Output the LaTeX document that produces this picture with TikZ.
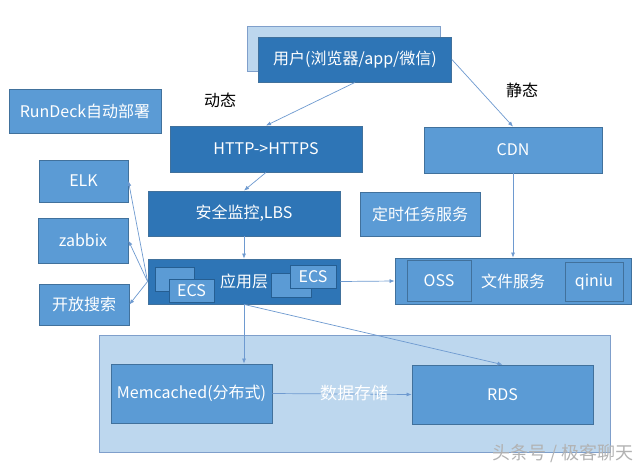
\documentclass[tikz,border=0pt]{standalone}
\usepackage{fontspec}
\setmainfont{Noto Sans CJK SC}
\usetikzlibrary{arrows.meta}
\definecolor{darkbox}{HTML}{2E75B6}
\definecolor{midbox}{HTML}{5B9BD5}
\definecolor{lightbox}{HTML}{BDD7EE}
\definecolor{boxline}{HTML}{41719C}
\definecolor{paleline}{HTML}{7F9FCB}
\definecolor{arrowline}{HTML}{6E9AD0}

\tikzstyle{box}=[draw=boxline,line width=0.8pt,fill=midbox,text=white,inner sep=0pt,font=\fontsize{16}{19}\selectfont]
\tikzstyle{dark box}=[box,fill=darkbox]
\tikzstyle{pale box}=[draw=paleline,line width=0.8pt,fill=lightbox,inner sep=0pt]
\tikzstyle{ecs box}=[draw=darkbox!80!black,line width=0.5pt,fill=midbox,text=white,inner sep=0pt,font=\fontsize{16}{19}\selectfont]
\tikzstyle{note}=[inner sep=0pt,font=\fontsize{16}{19}\selectfont]
\tikzstyle{flow} = [draw,line width=0.7pt,arrowline,-{Latex[length=5pt,width=4pt]}]

\begin{document}
\begin{tikzpicture}[x=1pt,y=-1pt]
	\useasboundingbox[fill=white] (0,0) rectangle (640,469);
	% user and the entry path
	\node[pale box,minimum width=193pt,minimum height=45pt] (userback) at (343.5,48.5) {};
	\node[dark box,minimum width=193pt,minimum height=45pt] (user) at (355,59.5) {用户(浏览器/app/微信)};
	\node[box,minimum width=152pt,minimum height=44pt] (rundeck) at (85,111) {RunDeck自动部署};
	\node[dark box,minimum width=192pt,minimum height=46pt] (http) at (266,149) {HTTP->HTTPS};
	\node[box,minimum width=178pt,minimum height=46pt] (cdn) at (513,150) {CDN};
	\node[dark box,minimum width=192pt,minimum height=45pt] (safe) at (244,213.5) {安全监控,LBS};
	\node[box,minimum width=120pt,minimum height=44pt] (timer) at (420,214) {定时任务服务};
	% monitoring on the left
	\node[box,minimum width=89pt,minimum height=42pt] (elk) at (83.5,181) {ELK};
	\node[box,minimum width=90pt,minimum height=45pt] (zabbix) at (83,240.5) {zabbix};
	\node[box,minimum width=90pt,minimum height=41pt] (search) at (84,304.5) {开放搜索};
	% application layer with its ECS hosts
	\node[dark box,minimum width=192pt,minimum height=45pt] (app) at (244,281.5) {应用层};
	\node[ecs box,minimum width=39pt,minimum height=24pt] (ecsa) at (174.5,279) {};
	\node[ecs box,minimum width=45pt,minimum height=23pt] (ecsb) at (191.5,290.5) {ECS};
	\node[ecs box,minimum width=40pt,minimum height=24pt] (ecsc) at (291,285) {};
	\node[ecs box,minimum width=46pt,minimum height=23pt] (ecsd) at (313,276.5) {ECS};
	% file service
	\node[box,minimum width=236pt,minimum height=46pt] (files) at (513,281) {文件服务};
	\node[box,minimum width=64pt,minimum height=41pt] (oss) at (439,280.5) {OSS};
	\node[box,minimum width=58pt,minimum height=39pt] (qiniu) at (594,282) {qiniu};
	% data storage
	\node[pale box,minimum width=511pt,minimum height=117pt] (store) at (355,393.5) {};
	\node[box,minimum width=161pt,minimum height=59pt] (mem) at (191.5,393.5) {Memcached(分布式)};
	\node[box,minimum width=181pt,minimum height=59pt] (rds) at (502.5,394.5) {RDS};
	% labels
	\node[note] (dyn) at (220,100) {动态};
	\node[note] (stat) at (522,90) {静态};
	% connect the boxes
	\foreach \source/ \dest in {user.south/http.north, user.east/cdn.north, http.south/safe.north,
		safe.south/app.north, app.east/files.west, app.south/rds.north, mem.east/rds.west,
		app.west/elk.east, app.west/zabbix.east, app.west/search.east}
		\path[flow] (\source) -- (\dest);
	\path[flow] (cdn.south) -- (cdn.south |- files.north);
	\path[flow] (app.south) -- (app.south |- mem.north);
	\node[note,text=white,font=\fontsize{17}{20}\selectfont] (storelabel) at (354,393) {数据存储};
	\node[note,text=black!30,font=\fontsize{18}{20}\selectfont] (mark) at (563,453) {头条号 / 极客聊天};
\end{tikzpicture}
\end{document}
